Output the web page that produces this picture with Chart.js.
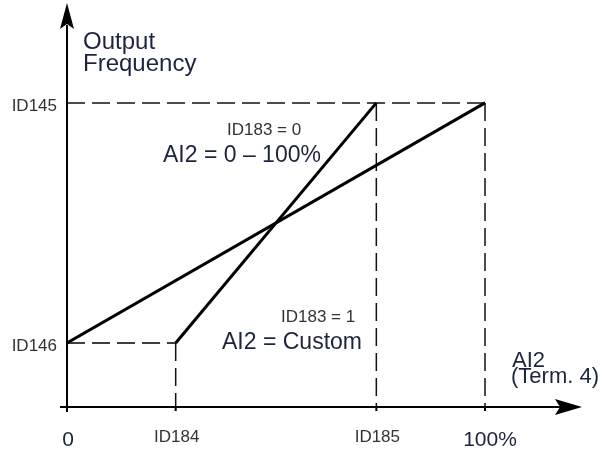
<!DOCTYPE html>
<html>
<head>
<meta charset="utf-8">
<script src="https://cdn.jsdelivr.net/npm/chart.js@4"></script>
<style>
  html, body { margin: 0; padding: 0; background: #fff; }
  canvas { display: block; }
</style>
</head>
<body>
<canvas id="myChart" width="612" height="451"></canvas>
<script>
// AI2 scaling: output frequency vs. analogue input (term. 4)
var xTicks = [0, 26, 74, 100];
var xTickLabels = ['0', 'ID184', 'ID185', '100%'];
var yTicks = [20, 95];
var yTickLabels = ['ID146', 'ID145'];

// ID183 = 0 : 0 - 100 %
var fullX = [0, 100];
var fullY = [20, 95];
// ID183 = 1 : custom range ID184..ID185
var customX = [0, 26, 74];
var customY = [20, 20, 95];

var INK = '#1c2540';
var GREY = '#333';
var DASH = [18, 7];

function pts(xs, ys) {
  return xs.map(function (x, i) { return {x: x, y: ys[i]}; });
}

function guide(a, b) {
  return {
    data: [a, b],
    borderColor: '#111',
    borderWidth: 1.5,
    borderDash: DASH,
    pointRadius: 0,
    order: 2
  };
}

var datasets = [
  {
    label: 'ID183 = 0',
    data: pts(fullX, fullY),
    borderColor: '#000',
    borderWidth: 3,
    pointRadius: 0,
    order: 1
  },
  {
    label: 'ID183 = 1',
    data: pts(customX, customY),
    borderColor: '#000',
    borderWidth: 3,
    pointRadius: 0,
    order: 1,
    segment: {
      // flat part below ID184 is only a dashed guide
      borderDash: function (c) { return c.p0DataIndex === 0 ? DASH : undefined; },
      borderWidth: function (c) { return c.p0DataIndex === 0 ? 1.5 : undefined; }
    }
  },
  // ID145 level and the vertical guides down to the axis
  guide({x: xTicks[0], y: yTicks[1]}, {x: xTicks[3], y: yTicks[1]}),
  guide({x: xTicks[3], y: yTicks[1]}, {x: xTicks[3], y: 0}),
  guide({x: xTicks[2], y: yTicks[1]}, {x: xTicks[2], y: 0}),
  guide({x: xTicks[1], y: yTicks[0]}, {x: xTicks[1], y: 0})
];

var arrowAxes = {
  id: 'arrowAxes',
  beforeDatasetsDraw: function (chart) {
    var c = chart.ctx, a = chart.chartArea;
    var x0 = chart.scales.x.getPixelForValue(0);
    var y0 = chart.scales.y.getPixelForValue(0);
    c.save();
    c.strokeStyle = '#000';
    c.fillStyle = '#000';
    c.lineWidth = 2;
    c.beginPath();
    c.moveTo(x0 - 7, y0);
    c.lineTo(a.right - 22, y0);
    c.moveTo(x0, y0 + 5);
    c.lineTo(x0, a.top + 22);
    // little ticks under the axis
    xTicks.slice(1).forEach(function (v) {
      var px = chart.scales.x.getPixelForValue(v);
      c.moveTo(px, y0);
      c.lineTo(px, y0 + 4);
    });
    c.stroke();
    // arrow heads
    c.beginPath();
    c.moveTo(a.right, y0);
    c.lineTo(a.right - 27, y0 - 8);
    c.lineTo(a.right - 22, y0);
    c.lineTo(a.right - 27, y0 + 8);
    c.closePath();
    c.moveTo(x0, a.top);
    c.lineTo(x0 - 7, a.top + 26);
    c.lineTo(x0, a.top + 21);
    c.lineTo(x0 + 7, a.top + 26);
    c.closePath();
    c.fill();
    c.restore();
  },
  afterDatasetsDraw: function (chart) {
    var c = chart.ctx;
    var sx = chart.scales.x, sy = chart.scales.y;
    var y0 = sy.getPixelForValue(0);
    c.save();

    // x tick labels
    c.textAlign = 'center';
    c.textBaseline = 'alphabetic';
    xTickLabels.forEach(function (t, i) {
      var px = sx.getPixelForValue(xTicks[i]);
      if (t.indexOf('ID') === 0) {
        c.font = '17px "Liberation Sans", Arial, sans-serif';
        c.fillStyle = GREY;
        c.fillText(t, px + 1, y0 + 35);
      } else {
        c.font = '21px "Liberation Sans", Arial, sans-serif';
        c.fillStyle = INK;
        c.fillText(t, px + (i === 0 ? 1 : 5), y0 + 39);
      }
    });

    // y tick labels
    c.textAlign = 'right';
    c.font = '17px "Liberation Sans", Arial, sans-serif';
    c.fillStyle = GREY;
    yTickLabels.forEach(function (t, i) {
      c.fillText(t, sx.getPixelForValue(0) - 10, sy.getPixelForValue(yTicks[i]) + 8);
    });

    // axis titles and curve notes
    c.textAlign = 'left';
    c.fillStyle = INK;
    c.font = '24px "Liberation Sans", Arial, sans-serif';
    c.fillText('Output', 83, 49);
    c.fillText('Frequency', 83, 71);

    c.font = '23px "Liberation Sans", Arial, sans-serif';
    c.fillText('AI2 = 0 \u2013 100%', 163, 162);
    c.fillText('AI2 = Custom', 222, 349);

    c.font = '22px "Liberation Sans", Arial, sans-serif';
    c.fillText('AI2', 512, 367);
    c.fillText('(Term. 4)', 511, 383);

    c.fillStyle = GREY;
    c.font = '17px "Liberation Sans", Arial, sans-serif';
    c.fillText('ID183 = 0', 227, 135);
    c.fillText('ID183 = 1', 281, 322);
    c.restore();
  }
};

var ctx = document.getElementById('myChart');
var myChart = new Chart(ctx, {
  type: 'line',
  data: {datasets: datasets},
  options: {
    responsive: false,
    animation: false,
    devicePixelRatio: 1,
    layout: {padding: {left: 67, right: 30, top: 3, bottom: 44}},
    plugins: {legend: {display: false}, tooltip: {enabled: false}},
    elements: {line: {tension: 0, fill: false, borderJoinStyle: 'miter'}},
    scales: {
      x: {type: 'linear', min: 0, max: 123.2, display: false},
      y: {type: 'linear', min: 0, max: 126.2, display: false}
    }
  },
  plugins: [arrowAxes]
});
</script>
</body>
</html>
